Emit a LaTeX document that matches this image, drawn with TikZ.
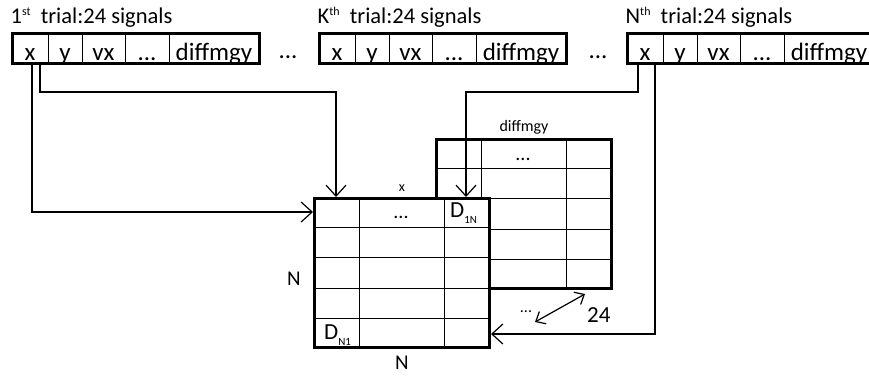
\documentclass[tikz,border=0pt]{standalone}
\usepackage{fontspec}
\setmainfont{Carlito}
\usetikzlibrary{arrows.meta,positioning,fit,calc}

% raised ordinal after the trial number
\newcommand{\trialsup}[1]{\raisebox{8pt}{\fontsize{12}{12}\selectfont #1}}
% lowered index after D
\newcommand{\dsub}[1]{\raisebox{-6pt}{\fontsize{11}{11}\selectfont #1}}

% one row of signals: name, left x, title
\newcommand{\trialrow}[3]{%
  \node[cell, minimum width=36pt, anchor=north west] (#1-1) at (#2,33) {x};
  \node[cell, minimum width=34pt, right=0pt of #1-1] (#1-2) {y};
  \node[cell, minimum width=43pt, right=0pt of #1-2] (#1-3) {vx};
  \node[cell, minimum width=44pt, right=0pt of #1-3] (#1-4) {...};
  \node[cell, minimum width=90pt, right=0pt of #1-4] (#1-5) {diffmgy};
  \node[rowbox, fit=(#1-1)(#1-5)] (#1) {};
  \node[ttl, anchor=base west] (#1-ttl) at ([yshift=8pt]#1.north west) {#3};
}

% inner lines of a distance matrix
\newcommand{\gridlines}[1]{%
  \foreach \r in {1,...,4}
    \draw[inner] ($(#1.north west)!\r/5!(#1.south west)$) -- ($(#1.north east)!\r/5!(#1.south east)$);
  \draw[inner] ([xshift=46pt]#1.north west) -- ([xshift=46pt]#1.south west);
  \draw[inner] ([xshift=131pt]#1.north west) -- ([xshift=131pt]#1.south west);
}

\begin{document}
\begin{tikzpicture}[
    x=1pt, y=-1pt,
    cell/.style={draw, line width=0.9pt, inner sep=0pt, outer sep=0pt,
                 text height=27pt, text depth=3pt, minimum height=30pt,
                 font=\fontsize{25}{25}\selectfont},
    rowbox/.style={draw, line width=3pt, inner sep=0pt},
    ttl/.style={inner sep=0pt, font=\fontsize{22.5}{22.5}\selectfont},
    gap/.style={inner sep=0pt, font=\fontsize{25}{25}\selectfont},
    matbox/.style={draw, line width=3pt, fill=white, inner sep=0pt,
                   minimum width=175pt, minimum height=149pt, anchor=north west},
    inner/.style={line width=1pt},
    lab/.style={inner sep=0pt, font=\fontsize{21}{21}\selectfont},
    small/.style={inner sep=0pt, font=\fontsize{16}{16}\selectfont},
    dots/.style={inner sep=0pt, font=\fontsize{20}{20}\selectfont},
    link/.style={line width=1.2pt, -{Straight Barb[length=11pt,width=20pt,line width=1.2pt]}},
    dbl/.style={line width=1.2pt, {Straight Barb[length=8pt,width=14pt,line width=1.2pt]}-{Straight Barb[length=8pt,width=14pt,line width=1.2pt]}},
]
\useasboundingbox (0,0) rectangle (869,376);

% --- trials (top) ---
\trialrow{t1}{12}{1\trialsup{st}\ \ trial:24 signals}
\trialrow{tk}{319}{K\trialsup{th}\ \ trial:24 signals}
\trialrow{tn}{627}{N\trialsup{th}\ \ trial:24 signals}
\node[gap, anchor=base] (gap1) at (288,58) {...};
\node[gap, anchor=base] (gap2) at (598,58) {...};

% --- matrix of the last signal (back) ---
\node[matbox] (mb) at (435,138) {};
\gridlines{mb}
\node[small, above=4pt of mb] (mblbl) {diffmgy};
\node[dots, anchor=base] (mbdots) at ([xshift=88pt,yshift=-22pt]mb.north west) {...};

% --- matrix of the first signal (front) ---
\node[matbox] (mf) at (313,197) {};
\gridlines{mf}
\node[small, font=\fontsize{14}{14}\selectfont, above=5pt of mf] (mflbl) {x};
\node[dots, anchor=base] (mfdots) at ([xshift=88pt,yshift=-21pt]mf.north west) {...};
\node[lab, font=\fontsize{23}{23}\selectfont, anchor=base west] (d1n) at ([xshift=137pt,yshift=-20pt]mf.north west) {D\dsub{1N}};
\node[lab, font=\fontsize{23}{23}\selectfont, anchor=base west] (dn1) at ([xshift=11pt,yshift=10pt]mf.south west) {D\dsub{N1}};
\node[lab, left=12pt of mf, yshift=-6pt] (nrow) {N};
\node[lab, below=7pt of mf] (ncol) {N};

% --- depth of the stack ---
\coordinate (dpa) at (535,322);
\coordinate (dpb) at (585,294);
\draw[dbl] (dpa) -- (dpb);
\node[small, anchor=base] (dpdots) at (526,312) {...};
\node[lab, font=\fontsize{23}{23}\selectfont, anchor=base west] (dpn) at (587,322) {24};

% --- x of every trial goes into the matrix ---
\draw[link] ([xshift=2pt]t1-1.south) |- ([yshift=-15pt]mf.north west);
\draw[link] ([xshift=10pt]t1-1.south) -- ++(0,29) -| ([xshift=23pt]mf.north west);
\draw[link] ([xshift=-7pt]tn-1.south) -- ++(0,29) -| ([xshift=-25pt]mf.north east);
\draw[link] ([xshift=10pt]tn-1.south) |- ([yshift=15pt]mf.south east);

\end{tikzpicture}
\end{document}
